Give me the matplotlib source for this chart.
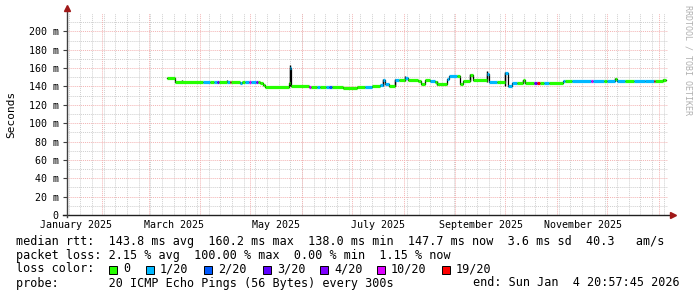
import matplotlib
matplotlib.use("Agg")
import matplotlib.pyplot as plt
from matplotlib.patches import Rectangle
from matplotlib.transforms import blended_transform_factory

# median rtt: segment start (days since 1 Jan 2025), value (ms), loss class
seg_day = [69.9, 74.7, 91.5, 96.0, 98.0, 100.0, 101.0, 106.0, 107.5, 108.5,
           113.7, 115.0, 117.0, 119.0, 120.5, 123.5, 124.8, 125.7, 127.5, 128.7,
           143.0, 143.6, 144.6, 155.0, 156.2, 160.0, 161.5, 165.5, 167.0, 169.0,
           175.5, 183.9, 189.0, 192.9, 197.7, 199.5, 201.0, 203.0, 206.5, 209.0,
           212.7, 214.5, 220.5, 222.3, 224.7, 227.7, 230.7, 231.9, 237.9, 239.0,
           244.0, 245.7, 247.5, 251.7, 253.5, 261.9, 263.1, 267.9, 272.7, 274.5,
           276.9, 280.0, 283.5, 284.7, 290.0, 292.0, 293.5, 296.0, 299.0, 307.6,
           309.0, 313.0, 324.5, 325.5, 332.0, 334.0, 338.8, 340.0, 345.0, 350.0,
           357.0, 362.0, 363.0, 367.6]
end_day = 369.4
seg_rtt = [149.5, 145.2, 145.2, 145.2, 145.2, 145.2, 145.0, 144.6, 144.6, 144.6,
           143.6, 144.6, 144.6, 144.6, 144.6, 144.6, 144.6, 143.5, 141.5, 139.5,
           144.0, 160.5, 140.0, 139.8, 139.8, 139.8, 139.5, 139.5, 139.5, 139.5,
           138.3, 139.8, 139.8, 140.8, 142.0, 146.5, 142.5, 141.0, 147.0, 147.0,
           149.5, 147.0, 146.0, 142.5, 147.0, 146.0, 145.0, 142.5, 148.0, 151.0,
           151.0, 143.0, 146.0, 152.5, 147.0, 154.0, 145.0, 145.0, 154.5, 141.0,
           144.0, 144.0, 146.5, 144.0, 143.5, 143.5, 143.5, 144.0, 144.0, 146.4,
           146.4, 145.7, 145.7, 145.7, 145.7, 145.7, 148.0, 145.7, 145.7, 145.7,
           145.7, 145.7, 145.7, 147.0]
seg_loss = [0, 0, 1, 0, 1, 3, 0, 1, 6, 0,
            1, 0, 1, 5, 1, 4, 0, 0, 0, 0,
            0, 1, 0, 5, 0, 1, 0, 1, 2, 0,
            0, 0, 1, 0, 1, 1, 1, 0, 1, 0,
            1, 0, 0, 0, 0, 1, 0, 0, 1, 1,
            0, 0, 0, 0, 0, 1, 1, 0, 1, 1,
            1, 0, 0, 0, 3, 6, 0, 1, 0, 1,
            0, 1, 5, 1, 0, 1, 0, 1, 0, 1,
            1, 6, 0, 0]

# smoke spikes (day, low, high) in ms
smoke_day = [78.9, 106.0, 143.6, 199.5, 206.5, 212.7, 231.9, 251.7, 261.9, 272.7, 283.5, 338.8, 367.6]
smoke_low = [144.5, 144.5, 140.0, 141.0, 141.0, 146.0, 142.0, 146.0, 145.0, 141.0, 144.0, 145.5, 145.5]
smoke_high = [147.5, 146.5, 163.5, 148.0, 148.5, 151.0, 146.0, 153.5, 156.5, 156.0, 147.5, 149.0, 148.0]

loss_colors = ['#26ff00', '#00b8ff', '#0059ff', '#5e00ff', '#7e00ff', '#dd00ff', '#ff0000']
loss_labels = ['0', '1/20', '2/20', '3/20', '4/20', '10/20', '19/20']

month_start = [0, 31, 59, 90, 120, 151, 181, 212, 243, 273, 304, 334, 365]
label_day = [15.5, 74.5, 135.5, 196.5, 258.5, 319.5]
label_text = ['January 2025', 'March 2025', 'May 2025', 'July 2025',
              'September 2025', 'November 2025']

yticks = list(range(0, 201, 20))
ylabels = ['0'] + ['%d m' % v for v in yticks[1:]]

W, H = 697, 297
mono = 'DejaVu Sans Mono'
fs = 8.5
fs_tick = 7.2

fig = plt.figure(figsize=(W / 100, H / 100), dpi=100)
fig.patch.set_facecolor('white')
ax = fig.add_axes([67 / W, 82 / H, 601 / W, 202 / H])
ax.set_xlim(10, 370.6)
ax.set_ylim(0, 220)
for s in ax.spines.values():
    s.set_visible(False)

# grid
grey = '#cfcfcf'
red = '#f3b3b3'
dots = (0, (1, 1))
for d in range(11, 371, 7):
    ax.axvline(d, color=grey, lw=0.7, ls=dots, zorder=0)
for v in range(10, 221, 10):
    if v % 20:
        ax.axhline(v, color=grey, lw=0.7, ls=dots, zorder=0)
for d in month_start:
    if 10 < d < 370.6:
        ax.axvline(d, color=red, lw=0.7, ls=dots, zorder=1)
for v in yticks[1:]:
    ax.axhline(v, color=red, lw=0.7, ls=dots, zorder=1)

# data
ax.step(seg_day + [end_day], seg_rtt + [seg_rtt[-1]], where='post',
        color='black', lw=0.9, zorder=3)
ax.vlines(smoke_day, smoke_low, smoke_high, color='black', lw=1.0, zorder=3)
ax.hlines(seg_rtt, seg_day, seg_day[1:] + [end_day],
          colors=[loss_colors[l] for l in seg_loss], lw=2.3, zorder=4)

# axes with arrows
ax.plot([-0.007, 1.006], [0, 0], transform=ax.transAxes, color='#202020',
        lw=1.0, clip_on=False, zorder=5)
ax.plot([0, 0], [-0.01, 1.015], transform=ax.transAxes, color='#404040',
        lw=1.0, clip_on=False, zorder=5)
ax.plot([1.008], [0], marker='>', ms=4.5, color='#a01818', transform=ax.transAxes,
        clip_on=False, zorder=6)
ax.plot([0], [1.025], marker='^', ms=4.5, color='#a01818', transform=ax.transAxes,
        clip_on=False, zorder=6)

ax.set_yticks(yticks)
ax.set_yticklabels(ylabels, fontfamily=mono, fontsize=fs_tick)
ax.tick_params(axis='y', length=3, width=0.8, pad=3, color='#404040')
ax.set_xticks([])

tr = blended_transform_factory(ax.transData, fig.transFigure)
for d, t in zip(label_day, label_text):
    ax.text(d, 1 - 225 / H, t, transform=tr, ha='center', va='center',
            fontfamily=mono, fontsize=fs_tick)

fig.text(11 / W, 1 - 114 / H, 'Seconds', rotation=90, ha='center', va='center',
         fontfamily=mono, fontsize=8)
fig.text(688 / W, 1 - 5 / H, 'RRDTOOL / TOBI OETIKER', rotation=270, ha='center',
         va='top', fontfamily=mono, fontsize=6, color='#b0b0b0')

# legend
def ftext(x, y, s, **kw):
    fig.text(x / W, 1 - y / H, s, va='center', fontfamily=mono, fontsize=fs, **kw)

ftext(16, 241, 'median rtt:  143.8 ms avg  160.2 ms max  138.0 ms min  147.7 ms now  3.6 ms sd  40.3   am/s')
ftext(16, 255, 'packet loss: 2.15 % avg  100.00 % max  0.00 % min  1.15 % now')
ftext(16, 269, 'loss color:')
box_x = [109, 146, 204, 263, 320, 377, 442]
for bx, c, lab in zip(box_x, loss_colors, loss_labels):
    fig.patches.append(Rectangle((bx / W, 1 - 273.5 / H), 8 / W, 8 / H,
                                 transform=fig.transFigure, facecolor=c,
                                 edgecolor='black', lw=0.7))
    ftext(bx + 14, 269, lab)
ftext(16, 283, 'probe:       20 ICMP Echo Pings (56 Bytes) every 300s')
ftext(680, 283, 'end: Sun Jan  4 20:57:45 2026', ha='right')

fig.savefig('out.png', dpi=100, facecolor='white')
